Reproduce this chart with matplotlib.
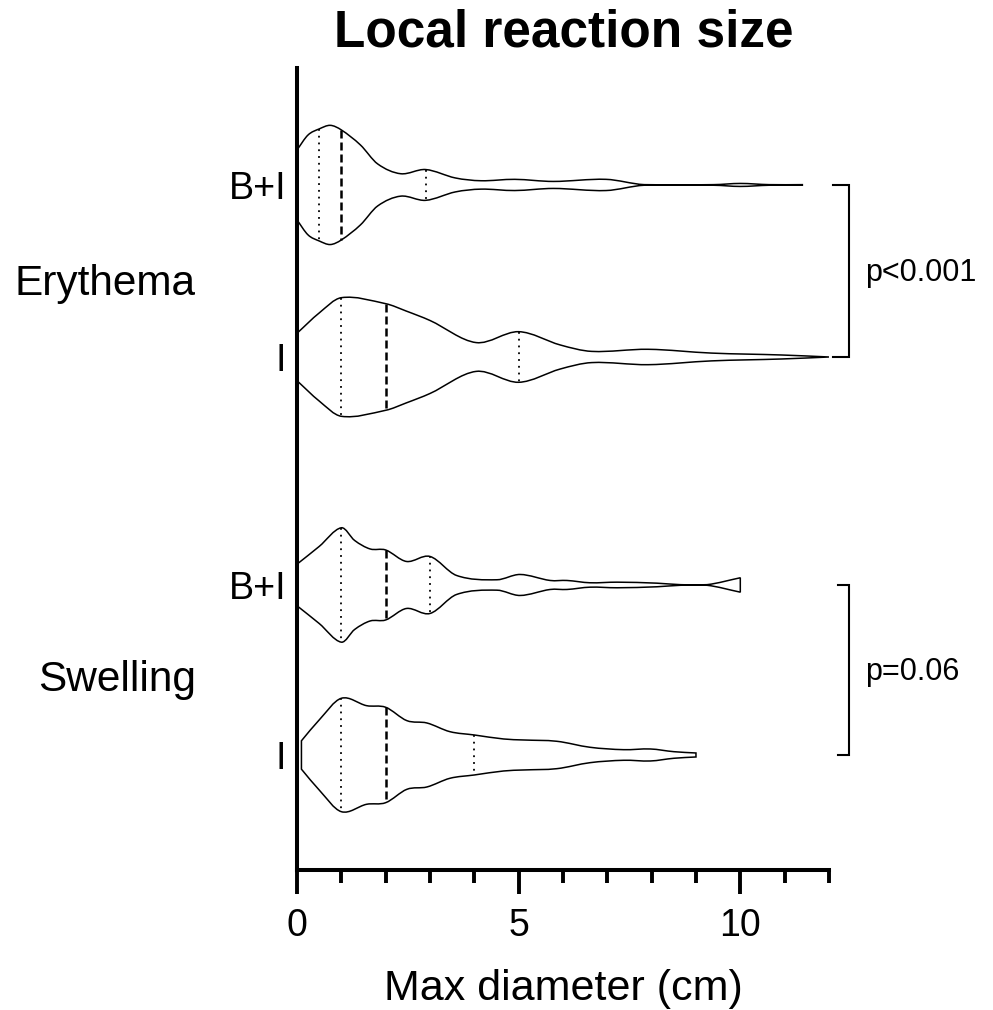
import numpy as np
import matplotlib
matplotlib.use("Agg")
import matplotlib.pyplot as plt
from matplotlib.path import Path
from matplotlib.patches import PathPatch
from matplotlib.ticker import MultipleLocator
import matplotlib.transforms as mtransforms

# --- data ------------------------------------------------------------------
groups = ["Erythema", "Swelling"]
rows = ["B+I", "I", "B+I", "I"]
p_values = ["p<0.001", "p=0.06"]

# violin outlines: x (cm) and relative half-width (density)
ery_bi_x = [0.0, 0.25, 0.5, 0.75, 1.0, 1.43, 1.82, 2.34, 2.9, 3.57, 4.15, 4.91,
            5.78, 6.97, 7.83, 9.4, 10.0, 10.65, 11.4]
ery_bi_w = [35, 50, 56, 59.6, 55, 40, 21, 11.2, 15.4, 7, 4.2, 5.6,
            3.5, 5.6, 0.3, 0.3, 1.5, 0.3, 0.3]

ery_i_x = [0.0, 0.5, 1.0, 2.0, 2.46, 3.0, 4.04, 5.0, 5.94, 6.65, 7.92, 9.35,
           10.93, 12.0]
ery_i_w = [23.7, 44, 59.3, 53.3, 46, 36.5, 14.4, 25.3, 12, 5.6, 7.7, 3.9,
           2, 0]

sw_bi_x = [0.0, 0.5, 1.0, 1.3, 1.65, 2.0, 2.47, 3.0, 3.6, 4.51, 5.03, 5.71,
           6.09, 6.61, 7.22, 8.12, 8.65, 9.25, 10.0]
sw_bi_w = [20.8, 38.5, 57.2, 44.5, 36, 35, 23.5, 28.5, 9.5, 5.2, 10.5, 4.5,
           4.5, 2.2, 2.8, 1.8, 0.3, 0.3, 7.2]

sw_i_x = [0.1, 0.5, 1.0, 1.57, 2.0, 2.48, 2.93, 3.45, 4.0, 4.66, 5.11, 5.86,
          6.61, 7.37, 7.97, 8.5, 9.0]
sw_i_w = [14.2, 35, 56.7, 49.3, 47.7, 34.3, 32, 23.3, 20, 16, 15, 13.7,
          7.7, 5.3, 6, 3.3, 2]

q1 = [0.5, 1.0, 1.0, 1.0]
medians = [1.0, 2.0, 2.0, 2.0]
q3 = [2.9, 5.0, 3.0, 4.0]

# --- layout ------------------------------------------------------------------
row_pos = [0.688, 1.70, 3.041, 4.041]
width_scale = 1 / 170.0
profiles = [(ery_bi_x, ery_bi_w), (ery_i_x, ery_i_w),
            (sw_bi_x, sw_bi_w), (sw_i_x, sw_i_w)]

plt.rcParams["font.family"] = ["Liberation Sans", "DejaVu Sans"]


def edge_segments(x, w):
    """Hermite tangents -> cubic bezier control points along one edge."""
    x = np.asarray(x, float)
    w = np.asarray(w, float)
    n = len(x)
    m = np.zeros(n)
    for i in range(n):
        if i == 0:
            m[i] = (w[1] - w[0]) / (x[1] - x[0])
        elif i == n - 1:
            m[i] = (w[-1] - w[-2]) / (x[-1] - x[-2])
        else:
            m[i] = (w[i + 1] - w[i - 1]) / (x[i + 1] - x[i - 1])
    segs = []
    for i in range(n - 1):
        dx = x[i + 1] - x[i]
        c1 = (x[i] + dx / 3, max(w[i] + m[i] * dx / 3, 0))
        c2 = (x[i + 1] - dx / 3, max(w[i + 1] - m[i + 1] * dx / 3, 0))
        segs.append(((x[i], w[i]), c1, c2, (x[i + 1], w[i + 1])))
    return segs


def violin_path(x, w, c):
    segs = edge_segments(x, w)
    s = width_scale
    verts = [(segs[0][0][0], c - segs[0][0][1] * s)]
    codes = [Path.MOVETO]
    for p0, c1, c2, p1 in segs:
        for px, pw in (c1, c2, p1):
            verts.append((px, c - pw * s))
            codes.append(Path.CURVE4)
    last = segs[-1][3]
    verts.append((last[0], c + last[1] * s))
    codes.append(Path.LINETO)
    for p0, c1, c2, p1 in reversed(segs):
        for px, pw in (c2, c1, p0):
            verts.append((px, c + pw * s))
            codes.append(Path.CURVE4)
    verts.append(verts[0])
    codes.append(Path.CLOSEPOLY)
    return Path(verts, codes)


fig = plt.figure(figsize=(9.93, 10.10), dpi=100)
ax = fig.add_axes([0.2991, 0.1386, 0.5357, 0.7941])

for k, (px, pw) in enumerate(profiles):
    c = row_pos[k]
    ax.add_patch(PathPatch(violin_path(px, pw, c), facecolor="white",
                           edgecolor="black", lw=1.1, zorder=2))
    for val, style, lw in ((q1[k], (0, (1, 2.75)), 1.3),
                           (q3[k], (0, (1, 2.75)), 1.3),
                           (medians[k], (0, (3.2, 1.6)), 1.8)):
        hw = np.interp(val, px, pw) * width_scale
        ax.plot([val, val], [c - hw, c + hw], color="black", lw=lw,
                linestyle=style, zorder=3)

ax.set_xlim(0, 12)
ax.set_ylim(802 / 170.0, 0)

for side in ("top", "right"):
    ax.spines[side].set_visible(False)
for side in ("left", "bottom"):
    ax.spines[side].set_linewidth(2.9)
    ax.spines[side].set_capstyle("projecting")

ax.set_xticks([0, 5, 10])
ax.xaxis.set_minor_locator(MultipleLocator(1))
ax.tick_params(axis="x", which="major", length=17, width=2.8, pad=10,
               labelsize=27)
ax.tick_params(axis="x", which="minor", length=9, width=2.8)
ax.set_yticks(row_pos)
ax.set_yticklabels(rows)
ax.tick_params(axis="y", length=0, pad=8, labelsize=27)

ax.set_xlabel("Max diameter (cm)", fontsize=31, labelpad=18)
fig.text(0.568, 0.9535, "Local reaction size", ha="center", va="baseline",
         fontsize=37, fontweight="bold")

# group labels on the left
blend = mtransforms.blended_transform_factory(fig.transFigure, ax.transData)
group_y = [1.335, 3.663]
for name, gy in zip(groups, group_y):
    ax.text(0.197, gy, name, transform=blend, ha="right", va="baseline",
            fontsize=30.5)

# significance brackets
for g, label in enumerate(p_values):
    top, bot = row_pos[2 * g], row_pos[2 * g + 1]
    xb = 12.46
    x0 = 12.1 if g == 0 else 12.2
    ax.plot([x0, xb, xb, x0], [top, top, bot, bot], color="black", lw=1.5,
            clip_on=False, solid_joinstyle="miter")
    ax.text(12.82, (top + bot) / 2 + 0.06, label, ha="left",
            va="baseline", fontsize=22, clip_on=False)

fig.savefig("out.png", dpi=100)
